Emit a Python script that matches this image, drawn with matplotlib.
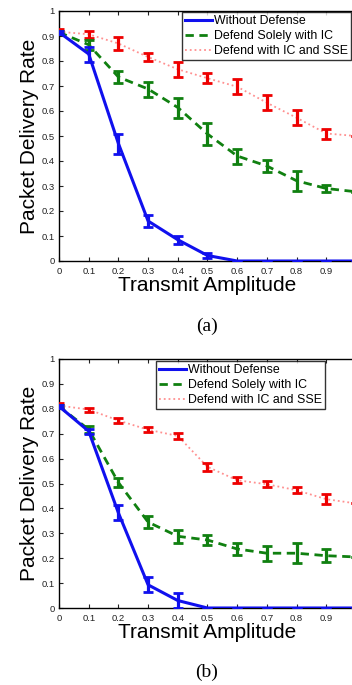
import matplotlib
matplotlib.use("Agg")
import matplotlib.pyplot as plt
import numpy as np

plt.rcParams['font.family'] = ['Liberation Sans', 'DejaVu Sans']

x = [0, 0.1, 0.2, 0.3, 0.4, 0.5, 0.6, 0.7, 0.8, 0.9, 1.0]

# (a)
a_none = [0.915, 0.828, 0.47, 0.16, 0.085, 0.022, 0, 0, 0, 0, 0]
a_none_err = [0.005, 0.03, 0.04, 0.025, 0.015, 0.01, 0, 0, 0, 0, 0]
a_ic = [0.915, 0.865, 0.736, 0.688, 0.614, 0.508, 0.42, 0.38, 0.321, 0.29, 0.277]
a_ic_err = [0.005, 0.02, 0.025, 0.03, 0.04, 0.045, 0.03, 0.025, 0.04, 0.015, 0]
a_sse = [0.917, 0.907, 0.87, 0.816, 0.767, 0.731, 0.697, 0.633, 0.573, 0.51, 0.50]
a_sse_err = [0.01, 0.015, 0.025, 0.015, 0.03, 0.02, 0.03, 0.03, 0.03, 0.02, 0]

# (b)
b_none = [0.81, 0.71, 0.382, 0.093, 0.03, 0, 0, 0, 0, 0, 0]
b_none_err = [0.005, 0.01, 0.03, 0.03, 0.03, 0, 0, 0, 0, 0, 0]
b_ic = [0.81, 0.717, 0.504, 0.345, 0.288, 0.273, 0.237, 0.22, 0.22, 0.21, 0.205]
b_ic_err = [0.005, 0.015, 0.02, 0.025, 0.025, 0.02, 0.025, 0.03, 0.04, 0.025, 0]
b_sse = [0.813, 0.797, 0.753, 0.716, 0.691, 0.567, 0.513, 0.497, 0.473, 0.437, 0.42]
b_sse_err = [0.01, 0.008, 0.01, 0.01, 0.012, 0.015, 0.012, 0.012, 0.012, 0.02, 0]

labels = ["Without Defense", "Defend Solely with IC", "Defend with IC and SSE"]
xticks = [0, 0.1, 0.2, 0.3, 0.4, 0.5, 0.6, 0.7, 0.8, 0.9, 1]
xticklabels = ["0", "0.1", "0.2", "0.3", "0.4", "0.5", "0.6", "0.7", "0.8", "0.9", ""]
yticks = [0, 0.1, 0.2, 0.3, 0.4, 0.5, 0.6, 0.7, 0.8, 0.9, 1]
yticklabels = ["0", "0.1", "0.2", "0.3", "0.4", "0.5", "0.6", "0.7", "0.8", "0.9", "1"]

fig = plt.figure(figsize=(3.52, 6.85), dpi=100)
W, H = 352, 685


def draw(ax, none, none_e, ic, ic_e, sse, sse_e, legbox):
    ax.plot(x, sse, color='#ff9090', linestyle=':', lw=1.3, label=labels[2], zorder=2)
    ax.errorbar(x, sse, yerr=sse_e, fmt='none', ecolor='#ee0000', elinewidth=2.3, capsize=3.5, capthick=2, zorder=3)
    ax.plot(x, ic, color='#108010', linestyle=(0, (3, 2)), lw=2.0, label=labels[1], zorder=4)
    ax.errorbar(x, ic, yerr=ic_e, fmt='none', ecolor='#108010', elinewidth=2.3, capsize=3.5, capthick=2, zorder=4)
    ax.plot(x, none, color='#1010ee', linestyle='-', lw=2.2, label=labels[0], zorder=5)
    ax.errorbar(x, none, yerr=none_e, fmt='none', ecolor='#1010ee', elinewidth=2.3, capsize=3.5, capthick=2, zorder=5)
    ax.set_xlim(0, 1)
    ax.set_ylim(0, 1)
    ax.set_xticks(xticks)
    ax.set_xticklabels(xticklabels)
    ax.set_yticks(yticks)
    ax.set_yticklabels(yticklabels)
    ax.tick_params(direction='in', top=True, right=True, labelsize=6.8, length=3, pad=3, colors='#222222')
    ax.tick_params(axis='x', pad=4)
    for s in ax.spines.values():
        s.set_linewidth(1.0)
    ax.set_xlabel("Transmit Amplitude", fontsize=15, labelpad=0)
    ax.set_ylabel("Packet Delivery Rate", fontsize=15, labelpad=2)
    h, l = ax.get_legend_handles_labels()
    order = [2, 1, 0]
    leg = ax.legend([h[i] for i in order], [l[i] for i in order], loc='upper left',
                    bbox_to_anchor=legbox, bbox_transform=fig.transFigure,
                    fontsize=8.9, frameon=True, fancybox=False, edgecolor='black',
                    handlelength=2.2, handletextpad=0.1, borderpad=0.25, labelspacing=0.25,
                    borderaxespad=0)
    leg.get_frame().set_linewidth(1.0)


ax1 = fig.add_axes([59 / W, (H - 261) / H, 297 / W, 250 / H])
draw(ax1, a_none, a_none_err, a_ic, a_ic_err, a_sse, a_sse_err, (182 / W, 1 - 12 / H))
ax2 = fig.add_axes([59 / W, (H - 608) / H, 297 / W, 249 / H])
draw(ax2, b_none, b_none_err, b_ic, b_ic_err, b_sse, b_sse_err, (156 / W, 1 - 361 / H))

fig.text(207 / W, 1 - 326 / H, "(a)", ha='center', va='center', fontsize=14, family='Liberation Serif')
fig.text(207 / W, 1 - 672 / H, "(b)", ha='center', va='center', fontsize=14, family='Liberation Serif')

fig.savefig("out.png", dpi=100)
